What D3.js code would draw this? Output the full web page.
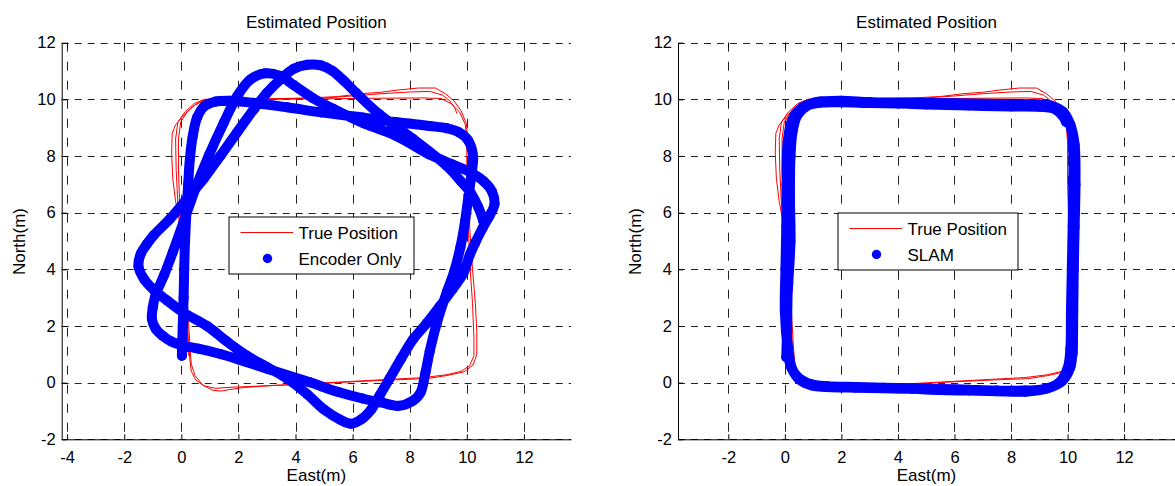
<!DOCTYPE html>
<html>
<head>
<meta charset="utf-8">
<script src="https://cdnjs.cloudflare.com/ajax/libs/d3/7.8.5/d3.min.js"></script>
<style>
  body { margin: 0; background: #fff; }
  svg { display: block; font-family: "Liberation Sans", Arial, sans-serif; }
</style>
</head>
<body>
<div id="chart"></div>
<script>
/* Ticks */
const xTicksLeft = [-4, -2, 0, 2, 4, 6, 8, 10, 12];
const xTicksRight = [-2, 0, 2, 4, 6, 8, 10, 12];
const yTicks = [-2, 0, 2, 4, 6, 8, 10, 12];

/* True position, [east, north] (3 laps, last one stops at the NE corner) */
const truePath = [
  [0.25,0.95],[0.2,2.0],[0.15,3.0],[0.1,4.0],[0.04,5.0],[-0.02,5.8],[-0.06,6.4],[-0.1,7.5],[-0.1,8.6],[-0.02,9.2],
  [0.2,9.55],[0.5,9.82],[0.85,9.98],[1.5,10.0],[3.0,10.0],[5.0,10.02],[7.0,10.04],[8.5,10.05],[9.1,10.03],[9.45,9.85],
  [9.75,9.55],[9.95,9.1],[10.0,8.5],[10.0,7.0],[10.05,5.5],[10.12,4.0],[10.2,2.8],[10.25,1.6],[10.25,0.95],[10.1,0.6],
  [9.8,0.4],[9.3,0.28],[8.5,0.18],[7.0,0.1],[5.5,0.02],[4.0,-0.06],[2.8,-0.12],[1.8,-0.16],[1.2,-0.2],[0.8,-0.12],
  [0.5,0.1],[0.35,0.4],[0.3,0.8],[0.25,1.5],
  [0.2,2.5],[0.12,3.8],[0.05,4.8],[-0.05,5.6],[-0.2,6.4],[-0.3,7.2],[-0.34,8.1],[-0.32,8.8],[-0.2,9.1],[0.05,9.4],
  [0.4,9.75],[0.75,9.95],[1.2,10.02],[3.0,10.02],[4.5,10.05],[5.5,10.1],[6.3,10.2],[7.0,10.25],[7.6,10.33],[8.3,10.4],
  [8.9,10.4],[9.25,10.2],[9.55,9.95],[9.8,9.6],[9.98,9.15],[10.05,8.5],[10.08,7.0],[10.1,5.5],[10.2,4.0],[10.3,2.8],
  [10.35,1.8],[10.35,1.0],[10.22,0.62],[9.9,0.38],[9.3,0.25],[8.6,0.14],[7.5,0.1],[6.0,0.03],[4.5,-0.05],[3.2,-0.1],
  [2.2,-0.17],[1.65,-0.25],[1.4,-0.3],[1.1,-0.27],[0.75,-0.08],[0.48,0.25],[0.35,0.65],[0.3,1.3],[0.25,2.2],
  [0.18,3.3],[0.1,4.5],[0.0,5.5],[-0.12,6.3],[-0.18,7.5],[-0.2,8.6],[-0.12,9.2],[0.12,9.55],[0.45,9.85],[0.8,10.0],
  [1.5,10.03],[3.5,10.02],[5.0,10.05],[6.0,10.12],[7.0,10.2],[8.0,10.26],[8.7,10.28],[9.15,10.15],[9.4,9.95],[9.58,9.7],
  [9.65,9.5]
];

/* Encoder only estimate */
const encoderPath = [
  [0.02,0.95],[0.05,2.0],[0.08,3.0],[0.1,4.0],[0.13,5.0],[0.18,6.0],[0.24,7.0],[0.3,7.9],[0.4,8.7],[0.55,9.35],
  [0.8,9.75],[1.2,9.92],[1.7,9.95],[2.5,9.88],[3.7,9.72],[4.9,9.54],[6.35,9.36],[7.5,9.2],[8.7,9.06],[9.3,8.98],
  [9.7,8.85],[10.05,8.55],[10.22,8.0],[10.17,7.4],[10.06,6.6],[9.94,5.7],[9.78,4.8],[9.55,3.9],[9.3,3.2],[8.95,2.1],
  [8.7,1.1],[8.55,0.35],[8.38,-0.35],[8.1,-0.65],[7.6,-0.82],[7.0,-0.7],[6.35,-0.56],[5.5,-0.33],[4.5,0.01],[3.0,0.49],
  [2.0,0.82],[1.37,1.01],[0.6,1.2],[0.08,1.3],[-0.35,1.45],[-0.65,1.65],[-0.9,1.9],[-1.03,2.25],[-1.0,2.65],[-0.9,3.1],
  [-0.6,3.8],[-0.3,4.6],[0.08,5.67],[0.49,6.84],[0.96,8.01],[1.49,9.18],[1.95,10.1],[2.42,10.7],[2.95,10.92],[3.45,10.83],
  [3.94,10.5],[4.6,10.05],[5.35,9.65],[6.4,9.15],[7.53,8.71],[8.7,8.05],[9.5,7.7],[10.12,7.43],[10.6,7.1],[10.88,6.75],
  [10.97,6.3],[10.8,5.9],[10.55,5.45],[10.3,4.95],[10.1,4.5],[9.88,3.86],[9.5,3.3],[9.06,2.7],[8.6,2.1],[8.12,1.53],
  [7.7,0.85],[7.29,0.14],[6.95,-0.45],[6.65,-0.95],[6.3,-1.3],[5.95,-1.45],[5.55,-1.3],[5.0,-0.95],[4.4,-0.4],[3.71,0.14],
  [3.0,0.55],[2.3,0.95],[1.6,1.45],[0.9,2.0],[0.08,2.47],[-0.5,2.9],[-0.97,3.28],[-1.3,3.65],[-1.5,4.1],[-1.42,4.55],
  [-1.2,4.9],[-0.97,5.2],[-0.39,5.79],[0.2,6.49],[0.78,7.19],[1.37,8.01],[1.95,8.83],[2.54,9.65],[3.0,10.23],[3.47,10.7],
  [3.94,11.08],[4.41,11.22],[4.88,11.2],[5.3,11.0],[5.7,10.65],[6.12,10.23],[6.94,9.47],[8.12,8.6],[9.29,7.66],[9.8,7.1],
  [10.12,6.73],[10.4,6.2],[10.58,5.7]
];

/* SLAM estimate */
const slamPath = [
  [0.05,0.9],[0.08,2.0],[0.1,3.5],[0.12,5.0],[0.12,6.5],[0.14,8.0],[0.18,8.9],[0.35,9.45],[0.7,9.75],[1.2,9.88],
  [2.0,9.9],[3.0,9.87],[4.0,9.85],[5.0,9.84],[6.0,9.82],[7.0,9.82],[8.0,9.8],[9.0,9.78],[9.5,9.72],[9.9,9.45],
  [10.12,9.0],[10.2,8.2],[10.2,7.0],[10.18,5.5],[10.15,4.0],[10.12,2.5],[10.1,1.2],[10.0,0.5],[9.7,0.0],[9.2,-0.22],
  [8.5,-0.28],[7.5,-0.28],[6.5,-0.25],[5.5,-0.22],[4.5,-0.2],[3.5,-0.18],[2.5,-0.15],[1.5,-0.13],[0.9,-0.05],[0.45,0.2],
  [0.2,0.6],[0.1,1.2],
  [0.0,2.5],[0.02,4.0],[0.05,5.5],[0.06,7.0],[0.1,8.5],[0.25,9.25],[0.6,9.7],[1.1,9.9],[2.0,9.95],[3.0,9.9],
  [4.5,9.88],[6.0,9.86],[7.5,9.84],[8.8,9.83],[9.4,9.78],[9.85,9.55],[10.1,9.1],[10.25,8.4],[10.28,7.0],[10.25,5.5],
  [10.22,4.0],[10.2,2.5],[10.18,1.3],[10.1,0.55],[9.8,0.05],[9.3,-0.2],[8.5,-0.32],[7.5,-0.3],[6.5,-0.28],[5.5,-0.26],
  [4.5,-0.22],[3.5,-0.2],[2.5,-0.18],[1.5,-0.15],[0.95,-0.1],[0.5,0.12],[0.25,0.5],[0.12,1.2],[0.05,2.0],
  [0.12,3.5],[0.2,5.0],[0.18,6.5],[0.2,8.0],[0.28,8.9],[0.45,9.45],[0.8,9.78],[1.3,9.92],[2.2,9.92],[3.5,9.88],
  [5.0,9.82],[6.5,9.78],[8.0,9.75],[9.0,9.74],[9.5,9.68],[9.8,9.45],[9.95,9.2]
];

const w = 1175; /*Ancho*/
const h = 486;  /*Alto*/
const plotTop = 42.7, plotBottom = 439.3;

const svg = d3.select('#chart')
  .append('svg')
  .attr('width', w)
  .attr('height', h);

const drawPanel = (p) => {
  const xScale = d3.scaleLinear().domain(p.xDomain).range([p.left, p.right]);
  const yScale = d3.scaleLinear().domain([-2, 12]).range([plotBottom, plotTop]);
  const g = svg.append('g');

  /*Grid*/
  g.selectAll('.vgrid')
    .data(p.xTicks)
    .enter()
    .append('line')
    .attr('x1', (d) => Math.round(xScale(d)) + 0.5)
    .attr('x2', (d) => Math.round(xScale(d)) + 0.5)
    .attr('y1', plotTop)
    .attr('y2', plotBottom)
    .attr('stroke', '#222')
    .attr('stroke-dasharray', '9,10');

  g.selectAll('.hgrid')
    .data(yTicks)
    .enter()
    .append('line')
    .attr('x1', p.left)
    .attr('x2', p.right)
    .attr('y1', (d) => Math.round(yScale(d)) + 0.5)
    .attr('y2', (d) => Math.round(yScale(d)) + 0.5)
    .attr('stroke', '#222')
    .attr('stroke-dasharray', '7,6');

  /*Top ticks*/
  g.selectAll('.ttick')
    .data(p.xTicks)
    .enter()
    .append('line')
    .attr('x1', (d) => Math.round(xScale(d)) + 0.5)
    .attr('x2', (d) => Math.round(xScale(d)) + 0.5)
    .attr('y1', plotTop)
    .attr('y2', plotTop + 5)
    .attr('stroke', '#000');

  /*True position*/
  const line = d3.line().x((d) => xScale(d[0])).y((d) => yScale(d[1]));
  g.append('path')
    .datum(truePath)
    .attr('d', line)
    .attr('fill', 'none')
    .attr('stroke', '#ff0000')
    .attr('stroke-width', 1);

  /*Estimate, dots packed so close they read as a thick band*/
  const smooth = d3.line().x((d) => xScale(d[0])).y((d) => yScale(d[1])).curve(d3.curveCatmullRom);
  g.append('path')
    .datum(p.est)
    .attr('d', smooth)
    .attr('fill', 'none')
    .attr('stroke', '#0000ff')
    .attr('stroke-width', 10)
    .attr('stroke-linecap', 'round')
    .attr('stroke-linejoin', 'round');

  g.selectAll('.dot')
    .data(p.est)
    .enter()
    .append('circle')
    .attr('cx', (d) => xScale(d[0]))
    .attr('cy', (d) => yScale(d[1]))
    .attr('r', 5)
    .attr('fill', '#0000ff');

  /*Axes, plain hyphen for negatives like the original*/
  const fmt = (d) => String(d);
  const xAxis = d3.axisBottom(xScale).tickValues(p.xTicks).tickFormat(fmt)
    .tickSizeInner(-5).tickSizeOuter(0).tickPadding(12.3);
  const yAxis = d3.axisLeft(yScale).tickValues(yTicks).tickFormat(fmt)
    .tickSizeInner(-5).tickSizeOuter(0).tickPadding(6);

  const gx = g.append('g')
    .attr('transform', `translate(0,${plotBottom})`)
    .call(xAxis);
  const gy = g.append('g')
    .attr('transform', `translate(${p.left},0)`)
    .call(yAxis);

  [gx, gy].forEach((a) => {
    a.select('.domain').attr('stroke', '#000');
    a.selectAll('.tick line').attr('stroke', '#000');
    a.selectAll('.tick text')
      .attr('fill', '#000')
      .style('font-size', '16.5px')
      .style('font-family', '"Liberation Sans", Arial, sans-serif');
  });

  /*Textos*/
  const cx = (p.left + p.right) / 2;
  g.append('text')
    .attr('x', cx)
    .attr('y', 27.7)
    .attr('text-anchor', 'middle')
    .style('font-size', '17px')
    .text('Estimated Position');

  g.append('text')
    .attr('x', cx)
    .attr('y', 481)
    .attr('text-anchor', 'middle')
    .style('font-size', '17px')
    .text('East(m)');

  g.append('text')
    .attr('transform', `translate(${p.left - 37},241.5) rotate(-90)`)
    .attr('text-anchor', 'middle')
    .style('font-size', '17px')
    .text('North(m)');

  /*Legend*/
  const L = p.legend;
  const lg = g.append('g');
  lg.append('rect')
    .attr('x', L.x + 0.5)
    .attr('y', L.y + 0.5)
    .attr('width', L.w)
    .attr('height', L.h)
    .attr('fill', '#fff')
    .attr('stroke', '#000');
  lg.append('line')
    .attr('x1', L.x + 12)
    .attr('x2', L.x + 64.5)
    .attr('y1', L.y + 16)
    .attr('y2', L.y + 16)
    .attr('stroke', '#ff0000');
  lg.append('text')
    .attr('x', L.x + 70)
    .attr('y', L.y + 22)
    .style('font-size', '17px')
    .text('True Position');
  lg.append('circle')
    .attr('cx', L.x + 39)
    .attr('cy', L.y + 42)
    .attr('r', 4.7)
    .attr('fill', '#0000ff');
  lg.append('text')
    .attr('x', L.x + 70)
    .attr('y', L.y + 48)
    .style('font-size', '17px')
    .text(p.name);
};

drawPanel({
  left: 61.7, right: 571, xDomain: [-4.19, 13.65], xTicks: xTicksLeft,
  est: encoderPath, name: 'Encoder Only',
  legend: { x: 228.5, y: 216.5, w: 185, h: 57 }
});

drawPanel({
  left: 678, right: 1175, xDomain: [-3.78, 13.8], xTicks: xTicksRight,
  est: slamPath, name: 'SLAM',
  legend: { x: 837.5, y: 212.5, w: 180, h: 57 }
});
</script>
</body>
</html>
